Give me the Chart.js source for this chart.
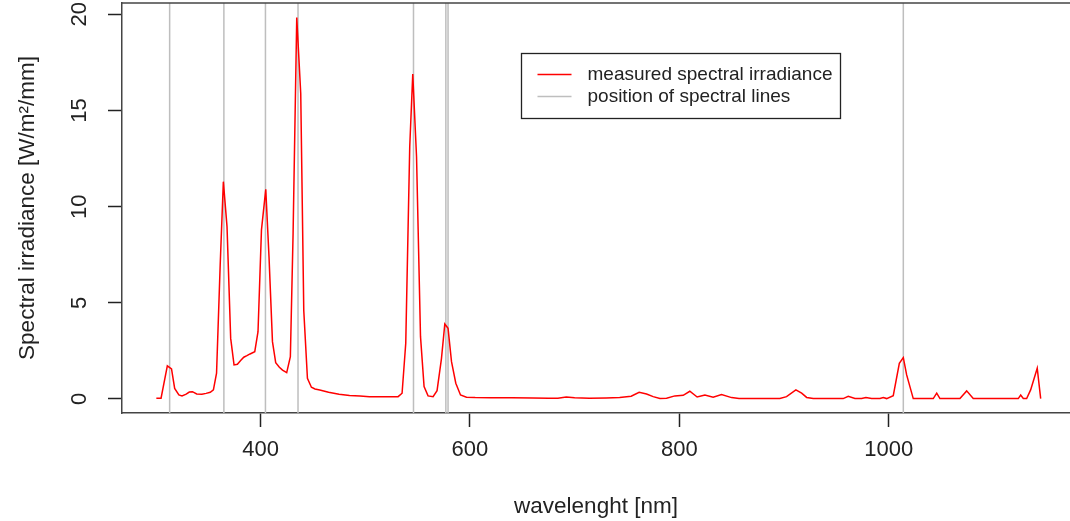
<!DOCTYPE html>
<html>
<head>
<meta charset="utf-8">
<script src="https://cdn.jsdelivr.net/npm/chart.js@4/dist/chart.umd.min.js"></script>
<style>
  body { margin: 0; background: #fff; overflow: hidden; }
  #wrap { width: 1070px; height: 521px; position: relative; }
</style>
</head>
<body>
<div id="wrap"><canvas id="myChart"></canvas></div>
<script>
'use strict'

// measured spectrum
let wavelength = [300.5, 305, 311, 315, 318, 322, 325, 329, 332, 335, 339, 344, 348, 352, 355, 358, 361.5, 364.5,
  368, 371.5, 374.7, 377.9, 381, 384, 387, 390, 394.5, 397.6, 400.9, 405, 408.1, 411.4, 414.5, 418, 421, 425,
  428.5, 431.1, 434.6, 438.4, 441.3, 444.8, 448.6, 452, 456.6, 465, 475, 485, 495, 504, 515, 525, 531.4, 535.2,
  538.7, 542.5, 545.4, 549, 552.8, 556.2, 560, 564.8, 568.6, 572.8, 576, 579.1, 582.4, 586.5, 591, 596.7, 605,
  620, 640, 660, 675, 684, 692, 700, 714, 730, 743, 754, 761.6, 768.7, 775, 781.4, 787.8, 795.7, 803.7, 810,
  817, 824.4, 832.3, 840.3, 849.9, 857, 864, 875, 889.7, 896, 902.4, 911.3, 916.8, 921.6, 927.9, 945, 956.5,
  961.3, 967.7, 974.1, 978.2, 983.6, 991.6, 994.8, 998, 1004.3, 1010.1, 1013.9, 1017.1, 1023.4, 1042.5, 1045.8,
  1048.9, 1068, 1074.4, 1080.7, 1123.7, 1126, 1128.5, 1131.7, 1135.5, 1141.8, 1145.1];
let irradiance = [0.04, 0.04, 1.72, 1.56, 0.55, 0.21, 0.16, 0.25, 0.36, 0.38, 0.26, 0.25, 0.29, 0.35, 0.47, 1.34, 7.0, 11.3,
  8.96, 3.15, 1.77, 1.8, 2.0, 2.17, 2.25, 2.34, 2.46, 3.5, 8.79, 10.9, 7.4, 2.98, 1.89, 1.65, 1.5, 1.37,
  2.2, 8.6, 19.84, 15.9, 4.6, 1.07, 0.61, 0.52, 0.47, 0.35, 0.25, 0.18, 0.15, 0.12, 0.12, 0.12, 0.12, 0.3,
  2.9, 13.1, 16.9, 12.6, 3.24, 0.64, 0.16, 0.12, 0.43, 2.1, 3.9, 3.67, 1.94, 0.82, 0.21, 0.09, 0.07,
  0.06, 0.06, 0.05, 0.04, 0.04, 0.1, 0.06, 0.04, 0.05, 0.07, 0.14, 0.35, 0.26, 0.12, 0.02, 0.04, 0.16, 0.19, 0.4,
  0.1, 0.21, 0.09, 0.23, 0.07, 0.03, 0.02, 0.02, 0.02, 0.02, 0.12, 0.47, 0.3, 0.08, 0.02, 0.02, 0.02,
  0.14, 0.02, 0.02, 0.08, 0.02, 0.02, 0.08, 0.02, 0.17, 1.85, 2.15, 1.25, 0.02, 0.02, 0.3,
  0.02, 0.02, 0.42, 0.02, 0.02, 0.2, 0.02, 0.02, 0.47, 1.6, 0.02];

// Hg lines [nm]
let spectralLines = [313.2, 365.0, 404.7, 435.8, 546.1, 577.0, 579.1, 1013.9];

let xTicks = [400, 600, 800, 1000];
let yTicks = [0, 5, 10, 15, 20];
let xRange = [267.7, 1173.1];
let yRange = [-0.73, 20.59];

let legendLabels = ['measured spectral irradiance', 'position of spectral lines'];
let lineColors = ['#ff0000', '#bebebe'];

const FONT = '"Liberation Sans", Arial, Helvetica, sans-serif';
const INK = '#222';

let datasets = [{
  label: legendLabels[0],
  data: wavelength.map((w, i) => ({x: w, y: irradiance[i]})),
  borderColor: lineColors[0],
  borderWidth: 1.5,
  pointRadius: 0,
  tension: 0,
  order: 0
}];
for (let i = 0; i < spectralLines.length; i++) {
  datasets.push({
    label: legendLabels[1],
    data: [{x: spectralLines[i], y: yRange[0]}, {x: spectralLines[i], y: yRange[1]}],
    borderColor: lineColors[1],
    borderWidth: 1.5,
    pointRadius: 0,
    order: 1
  });
}

// top edge of the box + the legend
let boxAndLegend = {
  id: 'boxAndLegend',
  afterDraw(chart) {
    let ctx = chart.ctx;
    let a = chart.chartArea;
    ctx.save();
    ctx.strokeStyle = '#444';
    ctx.lineWidth = 1.5;
    ctx.beginPath();
    ctx.moveTo(a.left, a.top);
    ctx.lineTo(a.right, a.top);
    ctx.stroke();

    let lx = a.left + 399.5, ly = a.top + 50.5;
    ctx.lineWidth = 1.3;
    ctx.strokeStyle = INK;
    ctx.strokeRect(lx, ly, 319, 65);
    ctx.font = '19px ' + FONT;
    ctx.fillStyle = INK;
    ctx.textBaseline = 'middle';
    for (let i = 0; i < legendLabels.length; i++) {
      let y = ly + 21 + i * 22;
      ctx.strokeStyle = lineColors[i];
      ctx.lineWidth = 1.5;
      ctx.beginPath();
      ctx.moveTo(lx + 16, y);
      ctx.lineTo(lx + 50, y);
      ctx.stroke();
      ctx.fillText(legendLabels[i], lx + 66, y);
    }
    ctx.restore();
  }
};

let ctx = document.getElementById('myChart').getContext('2d');
let myChart = new Chart(ctx, {
  type: 'line',
  data: {datasets: datasets},
  plugins: [boxAndLegend],
  options: {
    responsive: true,
    maintainAspectRatio: false,
    animation: false,
    devicePixelRatio: 1,
    layout: {padding: {top: 3, right: 0, bottom: 0, left: 0}},
    plugins: {legend: {display: false}, tooltip: {enabled: false}},
    scales: {
      x: {
        type: 'linear',
        min: xRange[0],
        max: xRange[1],
        afterBuildTicks: s => { s.ticks = xTicks.map(v => ({value: v})); },
        afterFit: s => { s.height = 108; s.paddingLeft = 0; s.paddingRight = 0; },
        grid: {drawOnChartArea: false, drawTicks: true, tickLength: 14, tickColor: INK, tickWidth: 1.5},
        border: {display: true, color: '#444', width: 1.5},
        ticks: {font: {family: FONT, size: 22}, color: INK, padding: 10, maxRotation: 0, autoSkip: false,
          callback: v => String(v)},
        title: {display: true, text: 'wavelenght [nm]', color: INK, font: {family: FONT, size: 22.5}, padding: {top: 0, bottom: 1}}
      },
      y: {
        type: 'linear',
        min: yRange[0],
        max: yRange[1],
        afterBuildTicks: s => { s.ticks = yTicks.map(v => ({value: v})); },
        afterFit: s => { s.width = 122; s.paddingTop = 0; s.paddingBottom = 0; },
        grid: {drawOnChartArea: false, drawTicks: true, tickLength: 14, tickColor: INK, tickWidth: 1.5},
        border: {display: true, color: '#444', width: 1.5},
        ticks: {font: {family: FONT, size: 22}, color: INK, padding: 16, minRotation: 90, maxRotation: 90, crossAlign: 'center', autoSkip: false,
          callback: v => String(v)},
        title: {display: true, text: 'Spectral irradiance [W/m²/mm]', color: INK, font: {family: FONT, size: 22.5}, padding: {top: 14, bottom: 0}}
      }
    }
  }
});
</script>
</body>
</html>
